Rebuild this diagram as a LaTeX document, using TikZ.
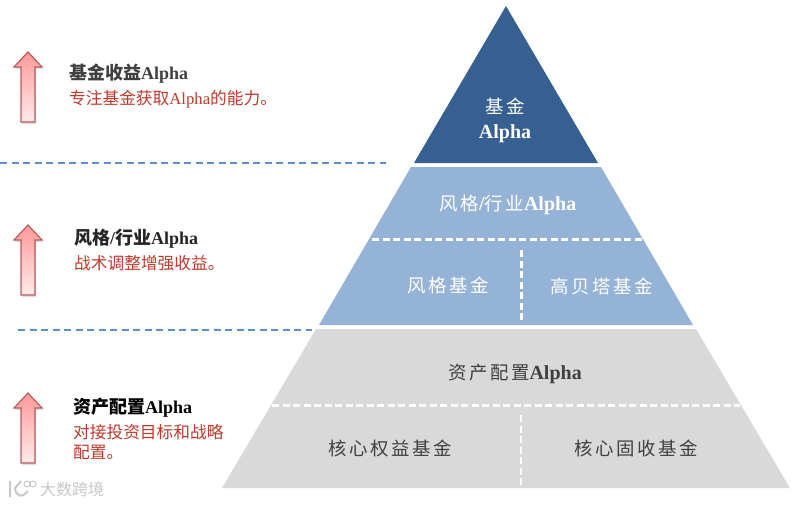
\documentclass[tikz,border=0pt]{standalone}
\usepackage{xcolor}
\usepackage{fontspec}
\setmainfont{Liberation Serif}
\newfontfamily\cjk{Noto Sans CJK SC}
\newfontfamily\cjkwide[LetterSpace=14,Scale=0.92]{Noto Sans CJK SC}
\usetikzlibrary{positioning,shadows,calc}
\definecolor{topblue}{HTML}{376092}
\definecolor{midblue}{HTML}{95B3D7}
\definecolor{lowgray}{HTML}{D9D9D9}
\definecolor{linkblue}{HTML}{5B8FCB}
\definecolor{headred}{HTML}{C0392B}
\definecolor{headgray}{HTML}{404040}
\definecolor{markred}{HTML}{B85C5C}

\begin{document}
\begin{tikzpicture}[x=1pt,y=-1pt,font=\rmfamily,
            level/.style={fill=#1,draw=none},
            split/.style={draw=white,line width=2.3pt,dash pattern=on 7pt off 3.5pt},
            band/.style={draw=linkblue,line width=1.2pt,dash pattern=on 7pt off 4.5pt},
            head/.style={anchor=west,font=\bfseries\fontsize{18}{20}\selectfont,inner sep=0pt},
            note/.style={anchor=north west,align=left,text=headred,font=\fontsize{16.7}{20}\selectfont,inner sep=0pt},
            cell/.style={text=white,font=\bfseries\fontsize{20}{25}\selectfont,inner sep=0pt,align=center},
            upmark/.style={draw=markred,line width=1.2pt,top color=red!40!white,bottom color=red!8!white,
            drop shadow={shadow xshift=1pt,shadow yshift=-2pt,opacity=0.25}}]

    \useasboundingbox (0,0) rectangle (796,504);

    % pyramid
    \fill[level=topblue] (506,6) -- (598,163) -- (414,163) -- cycle;
    \fill[level=midblue] (411,167) -- (601,167) -- (693,325) -- (319,325) -- cycle;
    \fill[level=lowgray] (316,329) -- (696,329) -- (790,488) -- (222,488) -- cycle;

    % dashed lines
    \coordinate (midL) at (372,239.5);
    \coordinate (midR) at (642,239.5);
    \coordinate (midT) at (521.5,250);
    \coordinate (midB) at (521.5,323);
    \coordinate (lowL) at (272,405.5);
    \coordinate (lowR) at (740,405.5);
    \coordinate (lowT) at (521,415);
    \coordinate (lowB) at (521,486);
    \draw[split] (midL) -- (midR);
    \draw[split] (midT) -- (midB);
    \draw[split] (lowL) -- (lowR);
    \draw[split] (lowT) -- (lowB);

    \coordinate (bandAL) at (0,163);
    \coordinate (bandAR) at (386,163);
    \coordinate (bandBL) at (18,330);
    \coordinate (bandBR) at (312,330);
    \draw[band] (bandAL) -- (bandAR);
    \draw[band] (bandBL) -- (bandBR);

    % arrows
    \foreach \top in {52,225,393}{
        \draw[upmark] (28,\top) -- ++(14,15) -- ++(-7,0) -- ++(0,55) -- ++(-14,0) -- ++(0,-55) -- ++(-7,0) -- cycle;
    }

    % pyramid labels
    \node[cell] (fund) at (505,120) {{\cjkwide\mdseries 基金}\\Alpha};
    \node[cell] (style) at (508,205) {{\cjkwide\mdseries 风格}/{\cjkwide\mdseries 行业}Alpha};
    \node[cell] (stylefund) at (448,285) {{\cjkwide\mdseries 风格基金}};
    \node[cell] (betafund) at (602,286) {{\cjkwide\mdseries 高贝塔基金}};
    \node[cell,text=headgray] (asset) at (515,374) {{\cjkwide\mdseries 资产配置}Alpha};
    \node[cell,text=headgray] (equity) at (390,448) {{\cjkwide\mdseries 核心权益基金}};
    \node[cell,text=headgray] (fixed) at (636,448) {{\cjkwide\mdseries 核心固收基金}};

    % side texts
    \node[head,text=headgray] (fundhead) at (69,74) {{\cjk 基金收益}Alpha};
    \node[note,below=6pt of fundhead.south west,anchor=north west] (fundnote) {{\cjk 专注基金获取}Alpha{\cjk 的能力。}};
    \node[head,text=black!85] (stylehead) at (74,239) {{\cjk 风格}/{\cjk 行业}Alpha};
    \node[note,below=6pt of stylehead.south west,anchor=north west] (stylenote) {{\cjk 战术调整增强收益。}};
    \node[head,text=black] (assethead) at (73,408) {{\cjk 资产配置}Alpha};
    \node[note,below=6pt of assethead.south west,anchor=north west] (assetnote) {{\cjk 对接投资目标和战略}\\{\cjk 配置。}};

    % watermark
    \node[anchor=west,text=black!22,font=\cjk\fontsize{16}{18}\selectfont,inner sep=0pt] (mark) at (40,489) {大数跨境};
    \draw[black!22,line width=2pt] (10,481) -- (10,497) (21,481) -- (15,488) .. controls (16,497) and (22,498) .. (28,491);
    \draw[black!22,line width=1pt] (27,484) circle (3pt) (33,484) circle (3pt);
\end{tikzpicture}
\end{document}
